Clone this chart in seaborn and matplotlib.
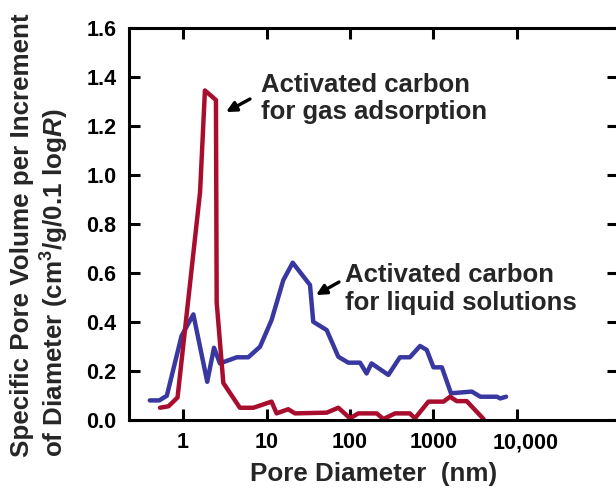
import matplotlib
matplotlib.use("Agg")
import matplotlib.pyplot as plt
import matplotlib.transforms as mtransforms
import seaborn as sns
import pandas as pd

# ── Data ───────────────────────────────────────────────────────────────────────

gas_diam = [0.53, 0.67, 0.86, 1.6, 1.83, 2.48, 2.53, 3.04, 4.8, 6.96, 11.5, 13.2,
            18.2, 21.9, 52.6, 72.5, 100, 126, 209, 251, 347, 521, 600, 870,
            1320, 1580, 1900, 2500, 3980]
gas_vol = [0.050, 0.056, 0.092, 0.93, 1.345, 1.306, 0.48, 0.151, 0.050, 0.050,
           0.075, 0.027, 0.044, 0.027, 0.030, 0.050, 0.007, 0.027, 0.027, 0.004,
           0.027, 0.027, 0.007, 0.075, 0.075, 0.095, 0.077, 0.077, 0.004]

liq_diam = [0.40, 0.52, 0.64, 0.96, 1.33, 1.95, 2.35, 2.77, 4.4, 6.05, 8.36, 11.5,
            15.9, 20.6, 33.2, 36.3, 52.6, 72.5, 95.5, 132, 158, 181, 288, 396,
            521, 690, 830, 1000, 1260, 1620, 2880, 3640, 5760, 6300, 7400]
liq_vol = [0.080, 0.080, 0.099, 0.343, 0.431, 0.156, 0.295, 0.231, 0.256, 0.256,
           0.299, 0.408, 0.571, 0.642, 0.551, 0.401, 0.367, 0.258, 0.234, 0.234,
           0.190, 0.231, 0.184, 0.256, 0.256, 0.302, 0.286, 0.215, 0.215, 0.109,
           0.116, 0.095, 0.095, 0.088, 0.095]

x_ticks = [1, 10, 100, 1000, 10000]
x_tick_labels = ["1", "10", "100", "1000", "10,000"]
y_ticks = [0.0, 0.2, 0.4, 0.6, 0.8, 1.0, 1.2, 1.4, 1.6]

RED = "#A80D2E"
BLUE = "#3838A0"

# ── Style ──────────────────────────────────────────────────────────────────────

sns.set_style("ticks")
plt.rcParams["font.family"] = ["Liberation Sans", "DejaVu Sans"]
plt.rcParams["font.weight"] = "bold"
plt.rcParams["mathtext.fontset"] = "custom"
plt.rcParams["mathtext.rm"] = "Liberation Sans:bold"
plt.rcParams["mathtext.it"] = "Liberation Sans:bold:italic"
plt.rcParams["mathtext.bf"] = "Liberation Sans:bold"

fig = plt.figure(figsize=(6.16, 4.88), dpi=100)
ax = fig.add_axes([129 / 616, 68 / 488, 489 / 616, 392 / 488])

gas = pd.DataFrame({"diameter": gas_diam, "volume": gas_vol})
liq = pd.DataFrame({"diameter": liq_diam, "volume": liq_vol})

sns.lineplot(data=liq, x="diameter", y="volume", color=BLUE, lw=3.2,
             estimator=None, sort=False, ax=ax)
sns.lineplot(data=gas, x="diameter", y="volume", color=RED, lw=3.2,
             estimator=None, sort=False, ax=ax)

ax.set_xscale("log")
ax.set_xlim(10 ** -0.647, 10 ** 5.21)
ax.set_ylim(0, 1.6)
ax.set_xticks(x_ticks)
ax.set_xticklabels(x_tick_labels)
ax.minorticks_off()
ax.set_yticks(y_ticks)
ax.set_yticklabels([f"{v:.1f}" for v in y_ticks])

for side in ["left", "right", "top", "bottom"]:
    ax.spines[side].set_visible(True)
    ax.spines[side].set_linewidth(2.2)
    ax.spines[side].set_color("black")

ax.tick_params(axis="both", which="both", direction="in", length=8, width=2.2,
               top=True, right=True, labelsize=15.5, pad=9, colors="black")
for lab in ax.get_xticklabels() + ax.get_yticklabels():
    lab.set_fontweight("bold")

# the "10,000" label sits a little right of its tick in the original
last = ax.get_xticklabels()[-1]
last.set_transform(last.get_transform() +
                   mtransforms.ScaledTranslation(0.09, 0, fig.dpi_scale_trans))

ax.set_xlabel("Pore Diameter  (nm)", fontsize=18.7, fontweight="bold", labelpad=6)
ax.set_ylabel("")

fig.text(22 / 616, 1 - 457 / 488, "Specific Pore Volume per Increment",
         rotation=90, ha="center", va="bottom", fontsize=18.7, fontweight="bold")
fig.text(55 / 616, 1 - 457 / 488, r"of Diameter (cm$^3$/g/0.1 log$R$)",
         rotation=90, ha="center", va="bottom", fontsize=18.7, fontweight="bold")

# ── Annotations ────────────────────────────────────────────────────────────────

fig.text(261 / 616, 1 - 98.5 / 488, "Activated carbon\nfor gas adsorption",
         ha="left", va="center", fontsize=18.5, fontweight="bold", linespacing=1.2)
fig.text(345 / 616, 1 - 289 / 488, "Activated carbon\nfor liquid solutions",
         ha="left", va="center", fontsize=18.5, fontweight="bold", linespacing=1.2)

arrow_kw = dict(arrowstyle="-|>", color="black", lw=2.4, mutation_scale=15,
                shrinkA=0, shrinkB=0)
ax.annotate("", xy=(226 / 616, 1 - 112 / 488), xycoords="figure fraction",
            xytext=(250 / 616, 1 - 99 / 488), textcoords="figure fraction",
            arrowprops=arrow_kw)
ax.annotate("", xy=(316 / 616, 1 - 295 / 488), xycoords="figure fraction",
            xytext=(339 / 616, 1 - 282 / 488), textcoords="figure fraction",
            arrowprops=arrow_kw)

fig.savefig("out.png", dpi=100)
